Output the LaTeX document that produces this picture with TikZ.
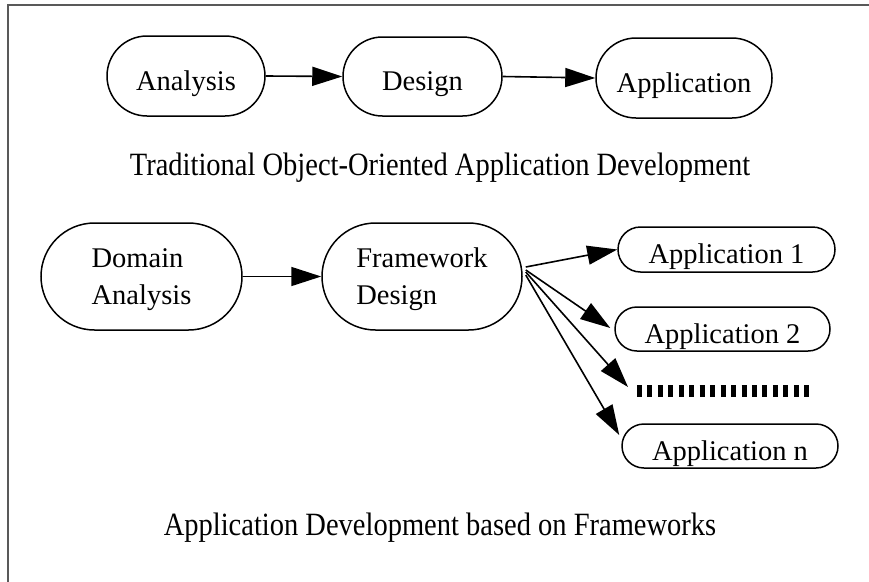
\documentclass[tikz,border=0pt]{standalone}
\usepackage{graphicx}
\usepackage{fontspec}
\setmainfont{Liberation Serif}
\usetikzlibrary{shapes.misc,arrows.meta,calc}
\newcommand{\tallcap}[1]{\scalebox{1}[1.14]{#1}}
\begin{document}
\begin{tikzpicture}[x=1pt,y=-1pt,
  box/.style={draw, line width=1.5pt, rounded rectangle, inner sep=0pt,
    font=\fontsize{28.5}{37}\selectfont, text depth=0pt},
  oneline/.style={text height=28pt},
  arr/.style={line width=1.6pt, -{Triangle[length=30pt,width=19pt]}},
  captext/.style={font=\fontsize{28.5}{34}\selectfont, anchor=base, inner sep=0pt},
  frame/.style={line width=1.8pt, draw=black!65}]
\useasboundingbox (0,0) rectangle (869,581);
\draw[frame] (8,590) -- (8,5) -- (880,5);
% top row
\node[box, oneline, minimum width=158pt, minimum height=80pt] (an) at (186,76) {Analysis};
\node[box, oneline, minimum width=159pt, minimum height=79pt] (de) at (422.5,76.5) {Design};
\node[box, oneline, minimum width=176pt, minimum height=80pt] (ap) at (684,78) {Application};
\draw[arr] (an.east) -- (de.west);
\draw[arr] (de.east) -- (ap.west);
\node[captext] (t1) at (440,175) {\tallcap{Traditional Object-Oriented Application Development}};
% bottom row
\node[box, align=left, minimum width=201pt, minimum height=107pt] (da) at (141.5,276.5) {Domain\\Analysis};
\node[box, align=left, minimum width=200pt, minimum height=107pt] (fw) at (422,276.5) {Framework\\Design};
\node[box, oneline, minimum width=217pt, minimum height=45pt] (a1) at (726.5,249.5) {Application 1};
\node[box, oneline, minimum width=215pt, minimum height=44pt] (a2) at (722.5,329) {Application 2};
\node[box, oneline, minimum width=216pt, minimum height=44pt] (aN) at (730,446) {Application n};
\coordinate (dl) at (637,391);
\coordinate (dr) at (809.5,391);
\draw[line width=12pt, dash pattern=on 5pt off 5.45pt] (dl) -- (dr);
\draw[arr] (da.east) -- (fw.west);
\draw[arr] ($(fw.east)+(3,-9.5)$) -- (a1.west);
\draw[arr] ($(fw.east)+(3,-6.5)$) -- ($(a2.west)+(-4,-1)$);
\draw[arr] ($(fw.east)+(3,-4.5)$) -- ($(dl)+(-9,-4)$);
\draw[arr] ($(fw.east)+(3,-1.5)$) -- ($(aN.west)+(-2,-11)$);
\node[captext] (t2) at (440,535) {\tallcap{Application Development based on Frameworks}};
\end{tikzpicture}
\end{document}
